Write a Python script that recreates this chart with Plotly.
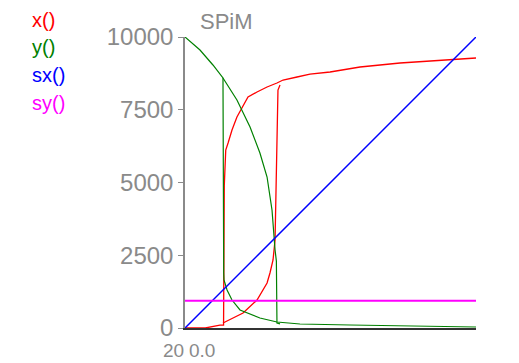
"""SPiM simulation plot: species counts over time."""

import plotly.graph_objects as go

# time points (two runs share each trace, split by None)
time_x0 = [0, 1.4, 2.4, 2.65, 2.70, 2.80, 2.96, 3.23, 3.57, 3.92, 4.33, 4.95, 5.64, 6.32,
           6.74, 7.70, 8.59, 9.97, 12.03, 14.78, 17.53, 20.0,
           None, 2.61, 3.99, 4.95, 5.64, 5.84, 6.05, 6.19, 6.25, 6.32, 6.39, 6.53]
x0 = [0, 0, 100, 100, 4900, 6117, 6357, 6804, 7251, 7560, 7938, 8110, 8282, 8419,
      8522, 8625, 8728, 8797, 8969, 9106, 9210, 9278,
      None, 172, 515, 962, 1546, 1890, 2337, 3024, 5085, 7147, 8178, 8350]

time_y0 = [0, 1.03, 1.92, 2.61, 2.66, 2.68, 2.89, 3.23, 3.78, 4.26, 5.15, 6.32, 7.90,
           11.34, 14.78, 20.0,
           None, 2.61, 3.57, 4.47, 5.15, 5.64, 5.98, 6.19, 6.28, 6.32, 6.53]
y0 = [10000, 9553, 9038, 8591, 1890, 1649, 1306, 962, 619, 515, 344, 206, 137,
      103, 69, 34,
      None, 8591, 7835, 6907, 6013, 5188, 4055, 2680, 2300, 172, 140]

time_sx0 = [0, 20.0]
sx0 = [0, 10000]

time_sy0 = [0, 20.0]
sy0 = [940, 940]

y_ticks = [0, 2500, 5000, 7500, 10000]
y_tick_labels = ["0", "2500", "5000", "7500", "10000"]
series_names = ["x()", "y()", "sx()", "sy()"]
series_colors = ["#ff0000", "#008000", "#0000ff", "#ff00ff"]

GREY = "#8a8a8a"
FONT = "Liberation Sans, Arial, sans-serif"

fig = go.Figure()
fig.add_trace(go.Scatter(x=time_x0, y=x0, mode="lines", line={"color": series_colors[0], "width": 1.3}))
fig.add_trace(go.Scatter(x=time_y0, y=y0, mode="lines", line={"color": series_colors[1], "width": 1.2}))
fig.add_trace(go.Scatter(x=time_sx0, y=sx0, mode="lines", line={"color": series_colors[2], "width": 1.5}))
fig.add_trace(go.Scatter(x=time_sy0, y=sy0, mode="lines", line={"color": series_colors[3], "width": 2}))

# hand-placed legend, left of the y axis
legend_y = [1.058, 0.966, 0.869, 0.773]
annotations = []
for name, color, yy in zip(series_names, series_colors, legend_y):
    annotations.append(dict(
        text=name, x=-0.533, y=yy, xref="paper", yref="paper",
        xanchor="left", yanchor="middle", showarrow=False,
        font={"color": color, "size": 20, "family": FONT},
    ))

annotations += [
    dict(text="SPiM", x=0.141, y=1.052, xref="paper", yref="paper", showarrow=False,
         xanchor="center", yanchor="middle",
         font={"color": GREY, "size": 22, "family": FONT}),
    dict(text="20", x=0.003, y=-0.076, xref="paper", yref="paper", showarrow=False,
         xanchor="right", yanchor="middle",
         font={"color": GREY, "size": 19, "family": FONT}),
    dict(text="0.0", x=0.007, y=-0.076, xref="paper", yref="paper", showarrow=False,
         xanchor="left", yanchor="middle",
         font={"color": GREY, "size": 19, "family": FONT}),
]

# page body adds an 8px offset, so margins are trimmed to keep the plot box in place
fig.update_layout(
    width=519,
    height=363,
    showlegend=False,
    plot_bgcolor="white",
    paper_bgcolor="white",
    margin={"l": 177, "r": 51, "t": 29, "b": 43},
    annotations=annotations,
    font={"family": FONT},
)
fig.update_xaxes(
    range=[0, 20], showgrid=False, zeroline=False, showticklabels=False,
    showline=True, linecolor="#333333", linewidth=2, ticks="",
)
fig.update_yaxes(
    range=[0, 10000], showgrid=False, zeroline=False,
    tickvals=y_ticks, ticktext=y_tick_labels, ticks="outside", ticklen=5, tickcolor=GREY,
    showline=True, linecolor=GREY, linewidth=1.5,
    tickfont={"color": GREY, "size": 24, "family": FONT},
)

fig.write_html("out.html")
